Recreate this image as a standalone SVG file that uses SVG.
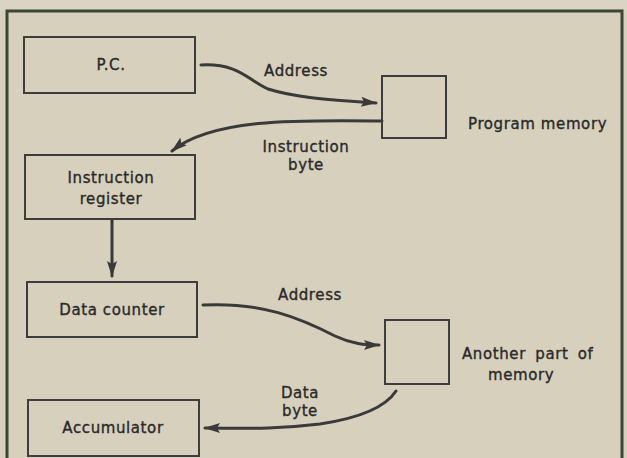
<svg xmlns="http://www.w3.org/2000/svg" width="627" height="458" viewBox="0 0 627 458">
<style>
.box{fill:none;stroke:#3d3d3d;stroke-width:2}
.t{font-family:"DejaVu Sans",sans-serif;font-size:15px;fill:#2a2a2a;stroke:#2a2a2a;stroke-width:0.35px;letter-spacing:0.6px}
.m{text-anchor:middle}
.c{fill:none;stroke:#3a3a3a;stroke-width:3;stroke-linecap:round}
</style>
<defs>
<marker id="ah" markerUnits="userSpaceOnUse" markerWidth="18" markerHeight="12" refX="15" refY="5" orient="auto">
<path d="M0,0 L16,5 L0,10 L3,5 z" fill="#3a3a3a"/>
</marker>
</defs>
<rect x="0" y="0" width="627" height="458" fill="#d6d0bd"/>
<rect x="0" y="0" width="627" height="10" fill="#d9d4c3"/>
<path d="M7,460 L7,11 L622,11 L622,460" fill="none" stroke="#3b4630" stroke-width="3"/>
<g id="pc"><rect class="box" x="24" y="37" width="171" height="56"/><text class="t m" x="111" y="70">P.C.</text></g>
<g id="ir"><rect class="box" x="25" y="155" width="170" height="64"/><text class="t m" x="111" y="183">Instruction</text><text class="t m" x="111" y="204">register</text></g>
<g id="dc"><rect class="box" x="27" y="282" width="170" height="55"/><text class="t m" x="112" y="315">Data counter</text></g>
<g id="acc"><rect class="box" x="28" y="400" width="171" height="56"/><text class="t m" x="113" y="433">Accumulator</text></g>
<g id="pm"><rect class="box" x="382" y="76" width="64" height="62"/><text class="t" x="468" y="129">Program memory</text></g>
<g id="apm"><rect class="box" x="385" y="320" width="64" height="64"/><text class="t" x="462" y="359" word-spacing="4">Another part of</text><text class="t" x="488" y="380">memory</text></g>
<g id="connectors">
<path class="c" marker-end="url(#ah)" d="M201,65 C238,63 248,80 268,89 C300,99 340,100 376,103"/>
<path class="c" marker-end="url(#ah)" d="M382,121 C300,120 212,118 172,151"/>
<path class="c" marker-end="url(#ah)" d="M112,220 L112,276"/>
<path class="c" marker-end="url(#ah)" d="M203,305 C262,302 300,318 335,336 C352,344 365,345 379,345"/>
<path class="c" marker-end="url(#ah)" d="M396,391 C385,408 360,418 320,424 C270,430 240,428 205,428"/>
<text class="t m" x="296" y="76">Address</text>
<text class="t m" x="306" y="152">Instruction</text>
<text class="t m" x="306" y="170">byte</text>
<text class="t m" x="310" y="300">Address</text>
<text class="t m" x="300" y="398">Data</text>
<text class="t m" x="300" y="416">byte</text>
</g>
</svg>
